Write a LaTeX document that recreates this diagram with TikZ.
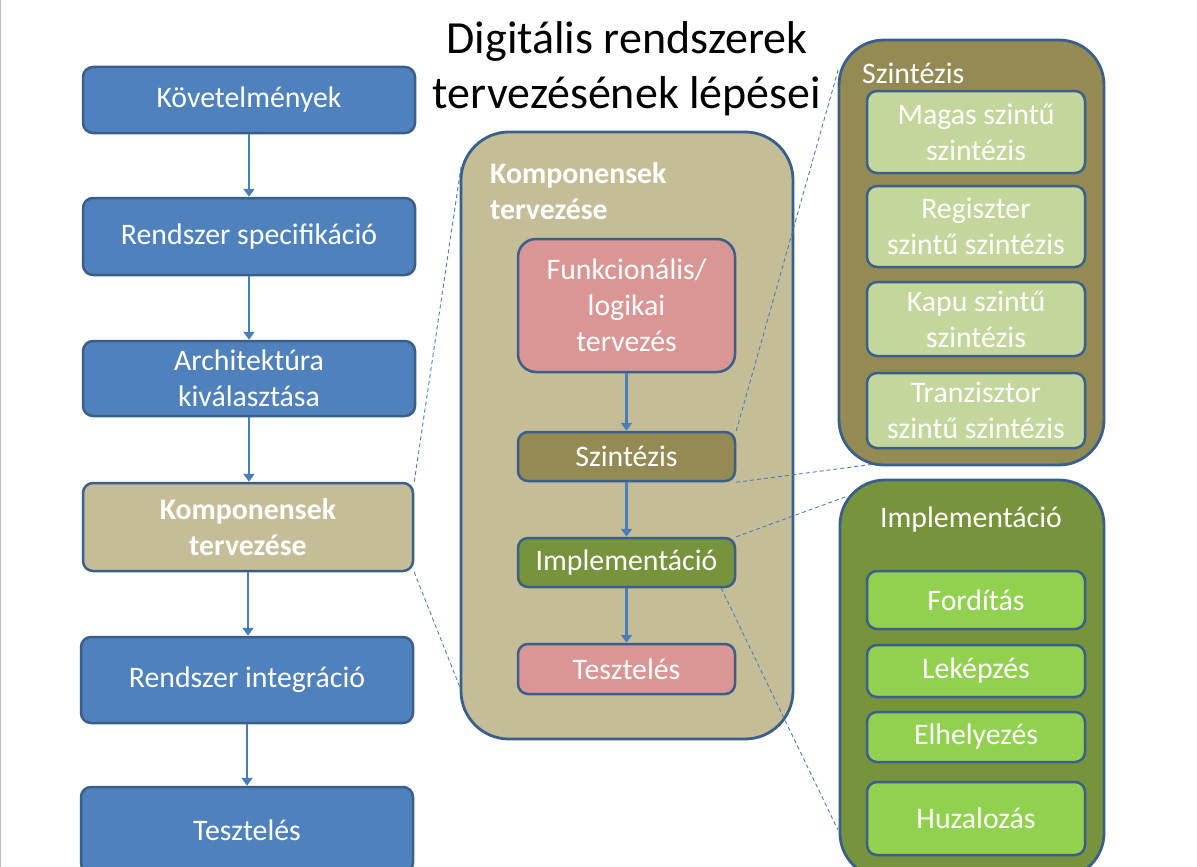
\documentclass[tikz,border=0pt]{standalone}
\usepackage{fontspec}
\setmainfont{Carlito}
\usetikzlibrary{arrows.meta,calc}
\definecolor{bordc}{HTML}{3A5F8B}
\definecolor{blueF}{HTML}{4F81BD}
\definecolor{tanF}{HTML}{C4BD97}
\definecolor{pinkF}{HTML}{D99694}
\definecolor{oliveF}{HTML}{948A54}
\definecolor{greenF}{HTML}{77933C}
\definecolor{lgreenF}{HTML}{C3D69B}
\definecolor{bgreenF}{HTML}{92D050}
\definecolor{arrowc}{HTML}{4A7EBB}
\newcommand{\boxfont}{\fontsize{29.8}{36}\selectfont}
\tikzset{
  x=1pt, y=1pt,
  stepbox/.style={draw=bordc, line width=2.5pt, rounded corners=10pt, text=white,
    align=center, inner sep=0pt, font=\boxfont},
  bigbox/.style={draw=bordc, line width=2.8pt, rounded corners=48pt, inner sep=0pt},
  flow/.style={arrowc, line width=2.5pt, -{Triangle[width=11pt,length=8pt]}},
  zoomline/.style={arrowc, line width=0.9pt, dash pattern=on 4pt off 3pt}
}
\begin{document}
\begin{tikzpicture}
\clip (0,0) rectangle (1197,-867);
\fill[white] (0,0) rectangle (1197,-867);
\draw[gray!50, line width=1.2pt] (0.6,0) -- (0.6,-867);

% title
\node[align=center, font=\fontsize{46}{55}\selectfont] (title) at (627,-69)
  {Digitális rendszerek\\tervezésének lépései};

% left column
\node[stepbox, fill=blueF, minimum width=332pt, minimum height=66pt] (req) at (249,-100) {Követelmények};
\node[stepbox, fill=blueF, minimum width=332pt, minimum height=77pt] (spec) at (249,-236.5) {Rendszer specifikáció};
\node[stepbox, fill=blueF, minimum width=332pt, minimum height=75pt] (arch) at (249,-378.5) {Architektúra\\kiválasztása};
\node[stepbox, fill=tanF, minimum width=330pt, minimum height=88pt, font=\boxfont\bfseries] (komp) at (248,-527) {Komponensek\\tervezése};
\node[stepbox, fill=blueF, minimum width=332pt, minimum height=86pt] (integ) at (247,-680) {Rendszer integráció};
\node[stepbox, fill=blueF, minimum width=332pt, minimum height=86pt] (ltest) at (247,-830) {Tesztelés};

\draw[flow] (req.south) -- (req.south |- spec.north);
\draw[flow] (spec.south) -- (spec.south |- arch.north);
\draw[flow] (arch.south) -- (arch.south |- komp.north);
\draw[flow] (komp.south) -- (komp.south |- integ.north);
\draw[flow] (integ.south) -- (integ.south |- ltest.north);

% middle container
\node[bigbox, fill=tanF, minimum width=332pt, minimum height=607pt] (mid) at (627,-435.5) {};
\node[anchor=north west, align=left, text=white, inner sep=0pt,
  font=\boxfont\bfseries] (midtitle) at (490,-162) {Komponensek\\tervezése};
\node[stepbox, fill=pinkF, minimum width=217pt, minimum height=133pt, rounded corners=18pt] (func) at (626.5,-305.5) {Funkcionális/\\logikai\\tervezés};
\node[stepbox, fill=oliveF, minimum width=217pt, minimum height=49pt] (szint) at (626.5,-456.5) {Szintézis};
\node[stepbox, fill=greenF, minimum width=217pt, minimum height=49pt] (impl) at (626.5,-562.5) {Implementáció};
\node[stepbox, fill=pinkF, minimum width=217pt, minimum height=50pt] (mtest) at (626.5,-669) {Tesztelés};

\draw[flow] (func.south) -- (szint.north);
\draw[flow] (szint.south) -- (impl.north);
\draw[flow] (impl.south) -- (mtest.north);

% right top container: Szintézis
\node[bigbox, fill=oliveF, minimum width=265pt, minimum height=425pt, rounded corners=45pt] (szbig) at (971.5,-252.5) {};
\node[anchor=base west, text=white, inner sep=0pt, font=\boxfont] (sztitle) at (862,-84) {Szintézis};
\node[stepbox, fill=lgreenF, minimum width=218pt, minimum height=82pt] (magas) at (976,-132) {Magas szintű\\szintézis};
\node[stepbox, fill=lgreenF, minimum width=218pt, minimum height=81pt] (regis) at (976,-226.5) {Regiszter\\szintű szintézis};
\node[stepbox, fill=lgreenF, minimum width=218pt, minimum height=74pt] (kapu) at (976,-319) {Kapu szintű\\szintézis};
\node[stepbox, fill=lgreenF, minimum width=218pt, minimum height=75pt] (tranz) at (976,-410.5) {Tranzisztor\\szintű szintézis};

% right bottom container: Implementáció
\node[bigbox, fill=greenF, minimum width=264pt, minimum height=398pt, rounded corners=45pt] (imbig) at (972,-679) {};
\node[anchor=base, text=white, inner sep=0pt, font=\boxfont] (imtitle) at (971,-527) {Implementáció};
\node[stepbox, fill=bgreenF, minimum width=218pt, minimum height=58pt] (ford) at (976,-600) {Fordítás};
\node[stepbox, fill=bgreenF, minimum width=218pt, minimum height=52pt] (lekep) at (976,-671) {Leképzés};
\node[stepbox, fill=bgreenF, minimum width=218pt, minimum height=50pt] (elhely) at (976,-737) {Elhelyezés};
\node[stepbox, fill=bgreenF, minimum width=218pt, minimum height=73pt] (huzal) at (976,-818.5) {Huzalozás};

% dashed zoom lines
\coordinate (d1) at (461,-167);
\coordinate (d2) at (461,-690);
\coordinate (d3) at (839,-67);
\coordinate (d4) at (875,-464);
\coordinate (d5) at (845,-497);
\coordinate (d6) at (838,-830);
\coordinate (i6) at ($(impl.south east)+(-15,0)$);
\draw[zoomline] (komp.north east) -- (d1);
\draw[zoomline] (komp.south east) -- (d2);
\draw[zoomline] (szint.north east) -- (d3);
\draw[zoomline] (szint.south east) -- (d4);
\draw[zoomline] (impl.north east) -- (d5);
\draw[zoomline] (i6) -- (d6);
\end{tikzpicture}
\end{document}
